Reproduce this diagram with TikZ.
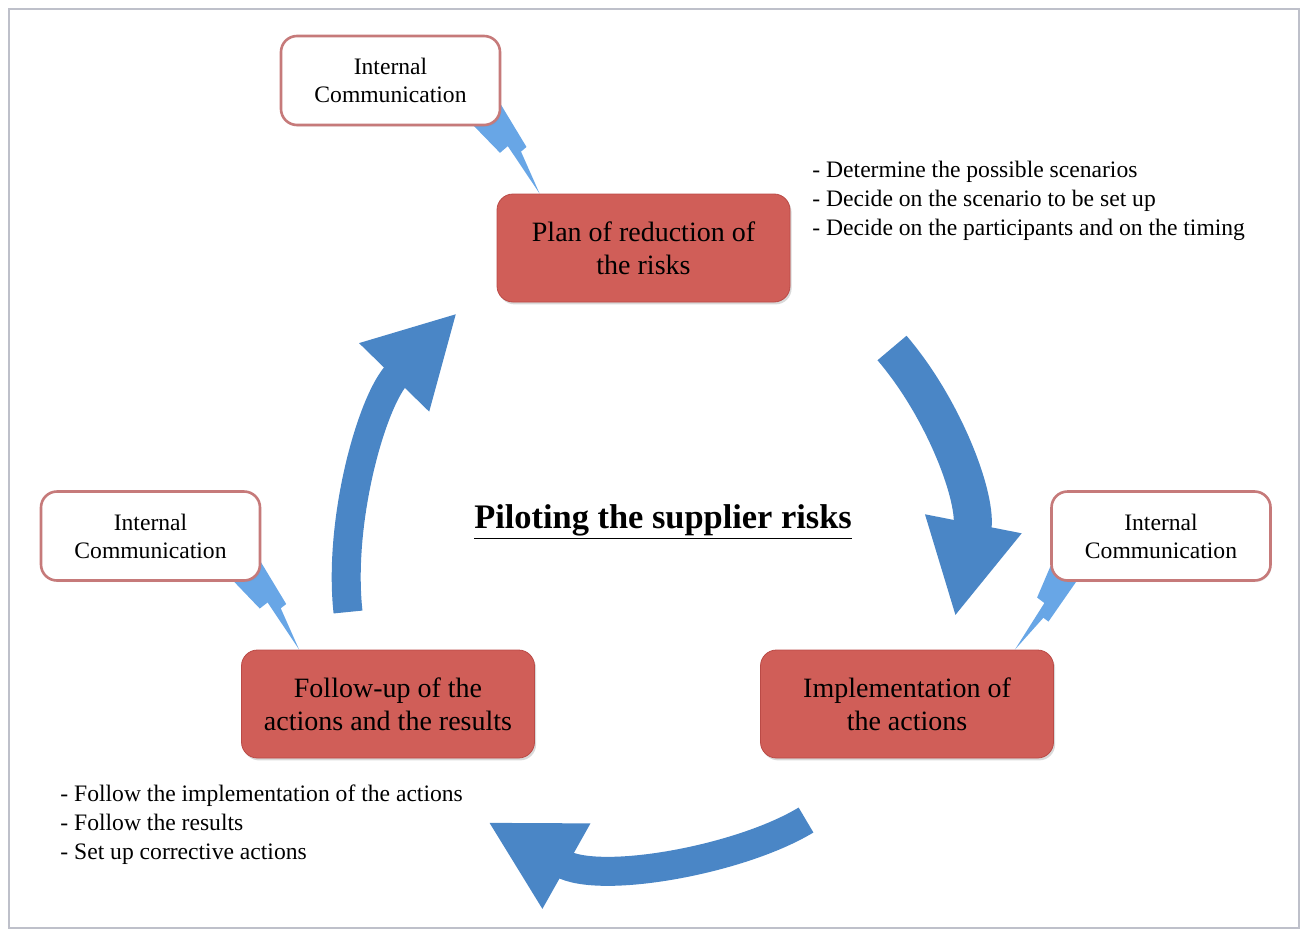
\documentclass[tikz,border=0pt]{standalone}
\usepackage{fontspec}
\setmainfont{Liberation Serif}
\usepackage{tikz}
\usetikzlibrary{arrows.meta, positioning, calc, shadows, backgrounds}
\definecolor{riskred}{RGB}{208,94,88}
\definecolor{riskedge}{RGB}{186,74,70}
\definecolor{commedge}{RGB}{198,122,122}
\definecolor{cycleblue}{RGB}{74,134,198}
\definecolor{boltblue}{RGB}{104,166,230}
\definecolor{framegray}{RGB}{190,192,202}

% lightning tail of a callout: base corner a, base corner b, tip
\newcommand{\commbolt}[3]{%
  \fill[boltblue] (#1) -- ($(#1)!.42!(#3)$) -- ($($(#1)!.42!(#3)$)!.5!($(#2)!.42!(#3)$)$)
    -- (#3) -- ($(#2)!.55!(#3)$) -- ($($(#2)!.55!(#3)$)!-.45!($(#1)!.55!(#3)$)$) -- (#2) -- cycle;}

\begin{document}
\begin{tikzpicture}[x=0.5pt, y=-0.5pt,
  stage/.style={draw=riskedge, fill=riskred, rounded corners=8pt, minimum width=146.5pt, minimum height=54pt,
    align=center, font=\fontsize{14}{16.5}\selectfont, drop shadow={shadow xshift=.8pt, shadow yshift=-1.2pt, opacity=.3}},
  comm/.style={draw=commedge, fill=white, line width=1.3pt, rounded corners=8pt, minimum width=109.5pt, minimum height=44.5pt,
    align=center, font=\fontsize{11.8}{14}\selectfont, drop shadow={shadow xshift=.6pt, shadow yshift=-.8pt, opacity=.15}},
  todo/.style={align=left, anchor=north west, inner sep=0pt, font=\fontsize{11.8}{14.5}\selectfont},
  cyc/.style={cycleblue, line width=14.5pt, -{Triangle[length=45pt, width=45.5pt]}}
]
  \useasboundingbox (0,0) rectangle (1304,931);
  \draw[framegray, line width=1pt] (9,9) rectangle (1299,928);

  \node[stage] (plan) at (643.5,248) {Plan of reduction of\\the risks};
  \node[stage] (impl) at (907,704) {Implementation of\\the actions};
  \node[stage] (follow) at (388,704) {Follow-up of the\\actions and the results};

  \node[comm] (commtop) at (390.5,80.5) {Internal\\Communication};
  \node[comm] (commleft) at (150.5,536) {Internal\\Communication};
  \node[comm] (commright) at (1161,536) {Internal\\Communication};

  \begin{scope}[on background layer]
    \commbolt{$(commtop.south east)+(-30,-3)$}{$(commtop.south east)+(-3,-26)$}{$(plan.north west)+(43,0)$}
    \commbolt{$(commleft.south east)+(-30,-3)$}{$(commleft.south east)+(-3,-24)$}{$(follow.north west)+(58,0)$}
    \commbolt{$(commright.south west)+(3,-22)$}{$(commright.south west)+(28,-3)$}{$(impl.north east)+(-39,0)$}
  \end{scope}

  \node[todo] (plantodo) at (812,161) {- Determine the possible scenarios\\- Decide on the scenario to be set up\\- Decide on the participants and on the timing};
  \node[todo] (followtodo) at (60,784) {- Follow the implementation of the actions\\- Follow the results\\- Set up corrective actions};

  \node[font=\fontsize{17.2}{20}\selectfont] (title) at (663,522) {\underline{\textbf{Piloting the supplier risks}}};

  % cycle arrows
  \coordinate (c1s) at (892,348);
  \coordinate (c1e) at (955,617);
  \coordinate (c2s) at (806,820);
  \coordinate (c2e) at (488,822);
  \coordinate (c3s) at (348,612);
  \coordinate (c3e) at (457,313);
  \draw[cyc, line width=19pt, -{Triangle[length=47.5pt, width=45.5pt]}] (c1s) .. controls (945,410) and (978,500) .. (c1e);
  \draw[cyc] (c2s) .. controls (740,860) and (600,885) .. (c2e);
  \draw[cyc] (c3s) .. controls (338,520) and (372,400) .. (c3e);
\end{tikzpicture}
\end{document}
